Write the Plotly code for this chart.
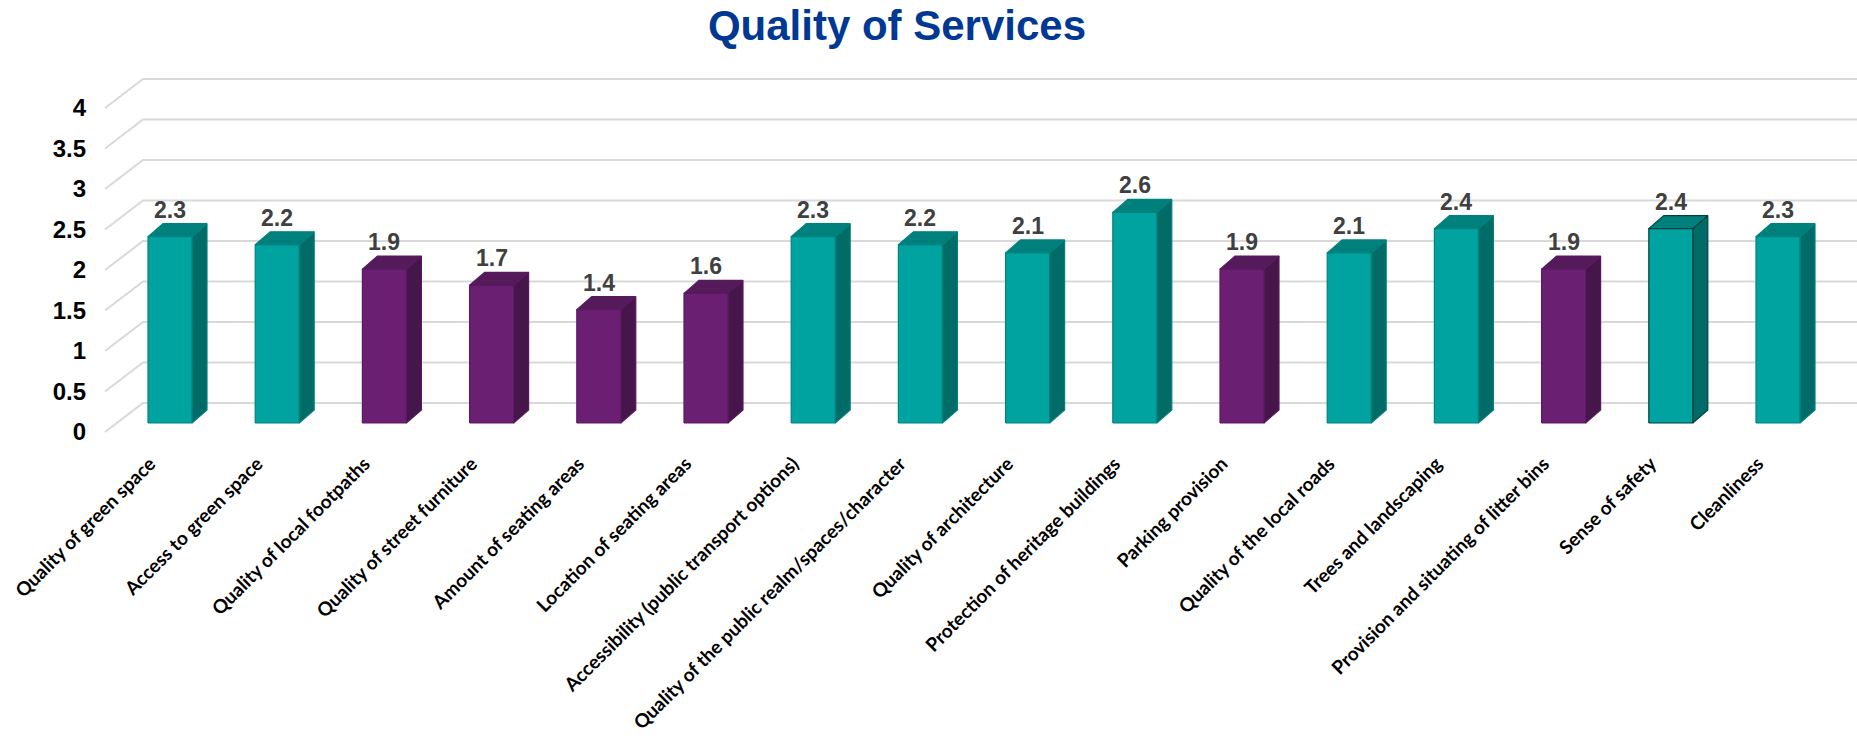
import plotly.graph_objects as go

# Survey scores per service
categories = [
    "Quality of green space",
    "Access to green space",
    "Quality of local footpaths",
    "Quality of street furniture",
    "Amount of seating areas",
    "Location of seating areas",
    "Accessibility (public transport options)",
    "Quality of the public realm/spaces/character",
    "Quality of architecture",
    "Protection of heritage buildings",
    "Parking provision",
    "Quality of the local roads",
    "Trees and landscaping",
    "Provision and situating of litter bins",
    "Sense of safety",
    "Cleanliness",
]
scores = [2.3, 2.2, 1.9, 1.7, 1.4, 1.6, 2.3, 2.2, 2.1, 2.6, 1.9, 2.1, 2.4, 1.9, 2.4, 2.3]
y_ticks = [0, 0.5, 1, 1.5, 2, 2.5, 3, 3.5, 4]
threshold = 2.0

# Face colours (front, side, top, outline)
TEAL = dict(front="#00A39F", side="#006B67", top="#00807C", edge="#00827E")
PURPLE = dict(front="#6B1F73", side="#46164A", top="#541A59", edge="#5A1A61")

# Geometry of the oblique projection, in axis units
W, H = 1857, 746
PX_CAT, PX_VAL = 107.2, 81.0          # pixels per category / per score unit
HALF = 22 / PX_CAT                    # half bar width
BDX, BDY = 15 / PX_CAT, 13 / PX_VAL   # bar depth
WALL_DY = 20 / PX_VAL                 # back wall vs bar front plane
FRONT_DY = -9 / PX_VAL                # front floor edge vs bar front plane
WALL_X0 = -27 / PX_CAT
EDGE_X0 = -65 / PX_CAT

M_T, M_B = 60, 306
x_min, x_max = -170 / PX_CAT, (W - 170) / PX_CAT
y_min, y_max = (423 - (H - M_B)) / PX_VAL, (423 - M_T) / PX_VAL

fig = go.Figure()

# Gridlines: diagonal on the side wall, horizontal on the back wall
gx, gy = [], []
for t in y_ticks:
    gx += [EDGE_X0, WALL_X0, x_max, None]
    gy += [t + FRONT_DY, t + WALL_DY, t + WALL_DY, None]
fig.add_trace(go.Scatter(x=gx, y=gy, mode="lines", line=dict(color="#D9D9D9", width=2),
                         hoverinfo="skip", showlegend=False))

for i, (cat, v) in enumerate(zip(categories, scores)):
    pal = PURPLE if v < threshold else TEAL
    edge = "#00413E" if cat == "Sense of safety" else pal["edge"]
    l, r = i - HALF, i + HALF
    faces = [
        ([r, r + BDX, r + BDX, r, r], [0, BDY, v + BDY, v, 0], pal["side"]),
        ([l, r, r + BDX, l + BDX, l], [v, v, v + BDY, v + BDY, v], pal["top"]),
        ([l, r, r, l, l], [0, 0, v, v, 0], pal["front"]),
    ]
    for fx, fy, col in faces:
        fig.add_trace(go.Scatter(x=fx, y=fy, mode="lines", fill="toself", fillcolor=col,
                                 line=dict(color=edge, width=1.2), name=cat,
                                 hoverinfo="skip", showlegend=False))
    fig.add_annotation(x=i, y=v + BDY, text=f"{v:.1f}", showarrow=False,
                       yanchor="bottom", yshift=-1,
                       font=dict(family="Liberation Sans, Arial", size=23, color="#404040",
                                 weight="bold"))

fig.update_layout(
    width=W, height=H,
    margin=dict(l=0, r=0, t=M_T, b=M_B, autoexpand=False),
    paper_bgcolor="white", plot_bgcolor="white",
    title=dict(text="<b>Quality of Services</b>", x=897 / W, xanchor="center",
               y=1 - 25 / H, yanchor="middle", automargin=False,
               font=dict(family="Liberation Sans, Arial", size=42, color="#003893")),
    xaxis=dict(range=[x_min, x_max], tickvals=list(range(len(categories))),
               ticktext=categories, tickangle=-45, showgrid=False, zeroline=False,
               showline=False, ticks="", automargin=False,
               ticklabelstandoff=8, ticklabelshift=-20,
               tickfont=dict(family="Lato", size=19, color="black", weight="bold")),
    yaxis=dict(range=[y_min, y_max], tickvals=y_ticks, ticktext=[f"{t:g}" for t in y_ticks],
               anchor="free", position=86 / W, showgrid=False, zeroline=False,
               showline=False, ticks="", ticklabelshift=9, automargin=False,
               tickfont=dict(family="Liberation Sans, Arial", size=24, color="black",
                             weight="bold")),
)

fig.write_html("out.html")
